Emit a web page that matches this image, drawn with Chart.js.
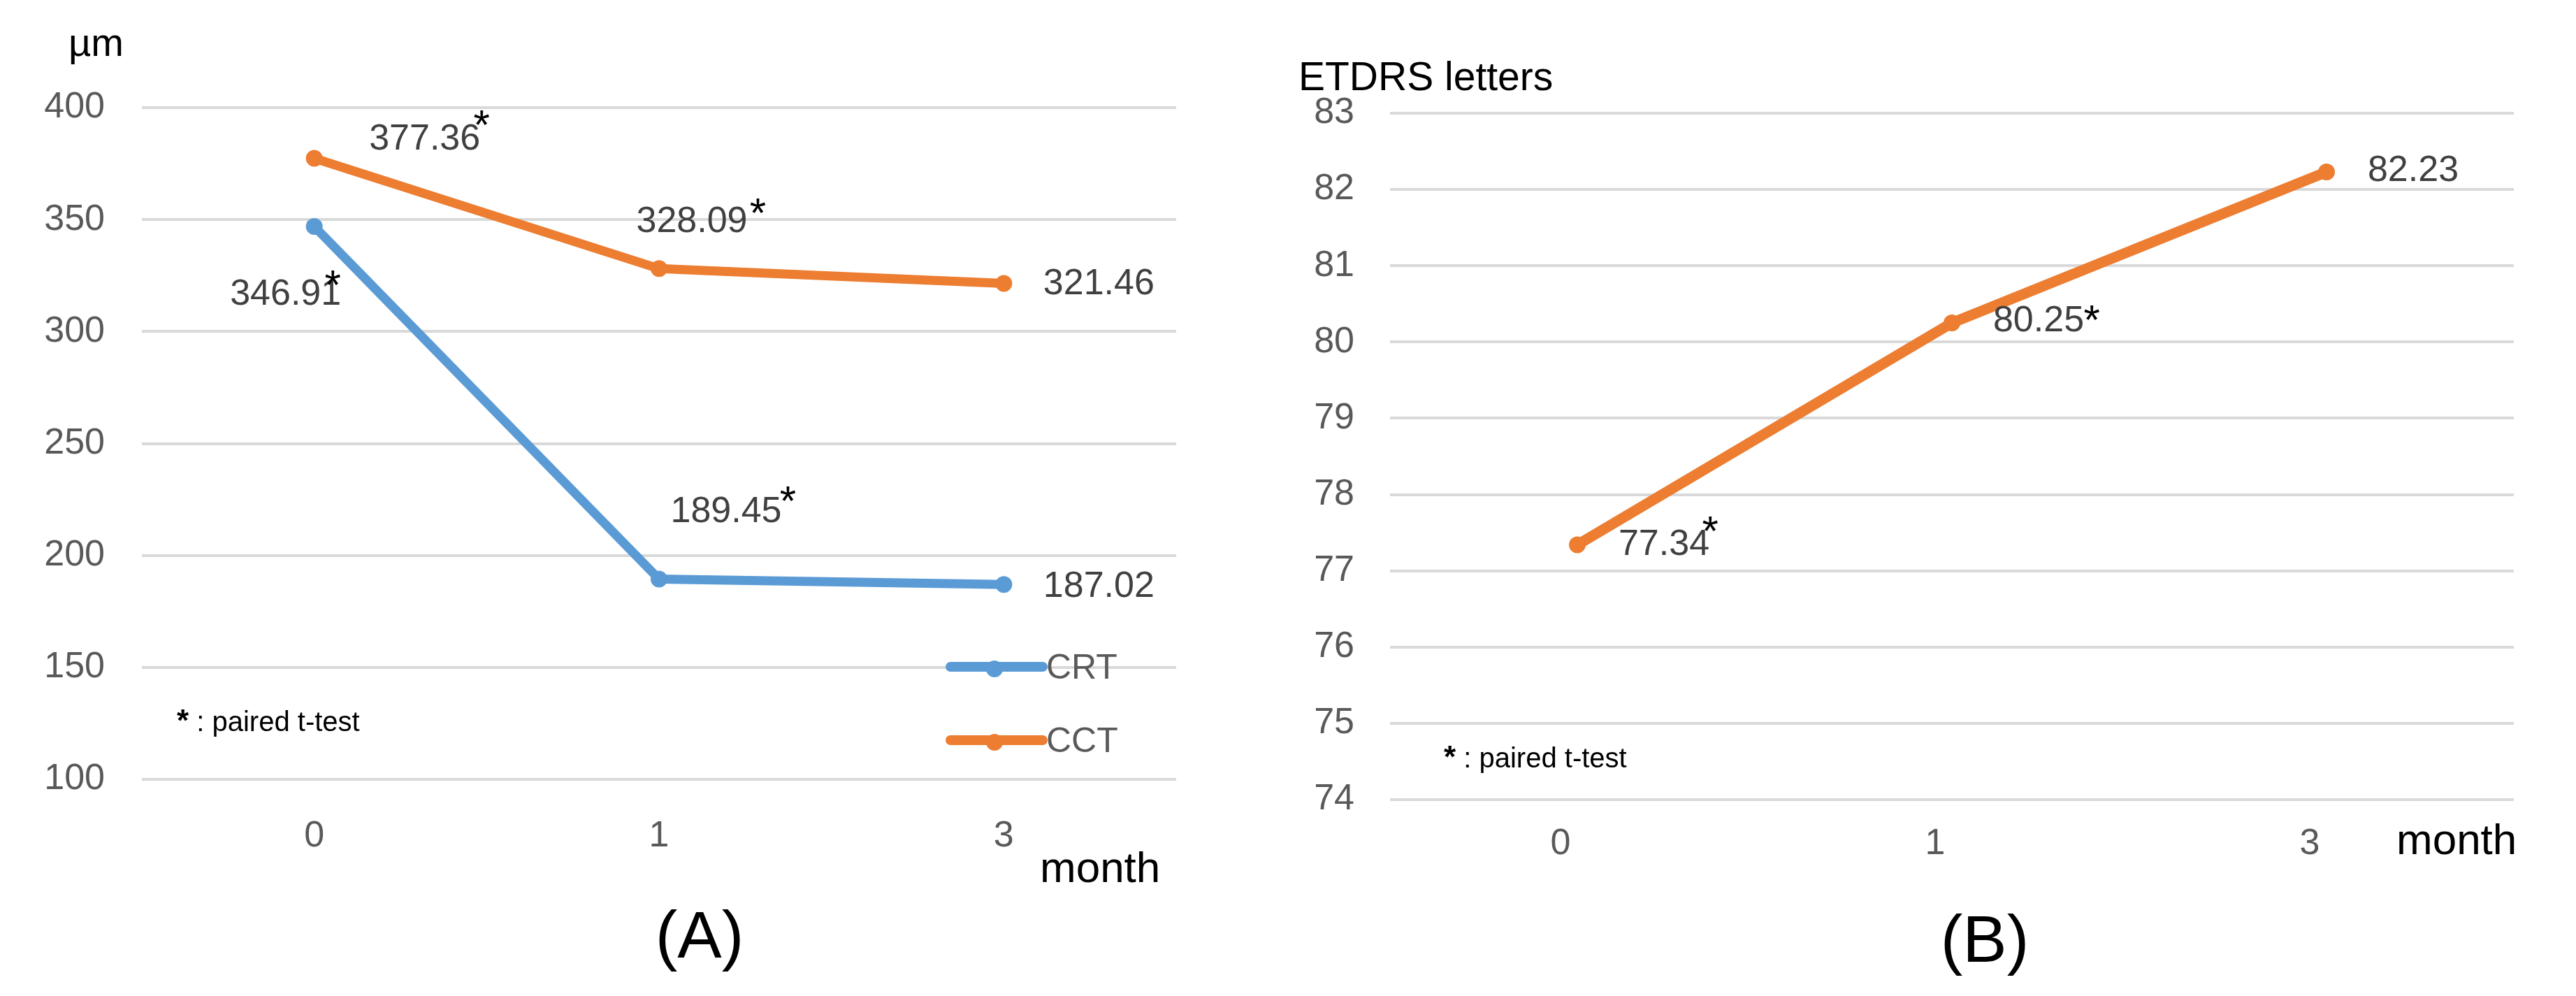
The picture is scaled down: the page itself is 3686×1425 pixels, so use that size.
<!DOCTYPE html>
<html>
<head>
<meta charset="utf-8">
<script src="https://cdn.jsdelivr.net/npm/chart.js@4.4.1/dist/chart.umd.min.js"></script>
<style>
  html, body { margin: 0; padding: 0; background: #ffffff; }
  #wrap { position: relative; width: 3686px; height: 1425px; overflow: hidden; background: #fff; }
  canvas { position: absolute; top: 0; }
  .t { position: absolute; font-family: "Liberation Sans", Arial, sans-serif; line-height: 1; white-space: nowrap; color: #000; }
</style>
</head>
<body>
<div id="wrap">
  <canvas id="chartA" width="1843" height="1425" style="left:0px"></canvas>
  <canvas id="chartB" width="1843" height="1425" style="left:1843px"></canvas>

  <div class="t" style="left:98px; top:33px; font-size:56px;">µm</div>
  <div class="t" style="left:1488px; top:1210px; font-size:62px;">month</div>
  <div class="t" style="left:253px; top:1009px; font-size:40px;"><span style="font-weight:bold;font-size:44px;">*</span> : paired t-test</div>
  <div class="t" style="left:901px; top:1290px; width:200px; text-align:center; font-size:95px;">(A)</div>

  <div class="t" style="left:1858px; top:81px; font-size:57px;">ETDRS letters</div>
  <div class="t" style="left:3429px; top:1170px; font-size:62px;">month</div>
  <div class="t" style="left:2066px; top:1061px; font-size:40px;"><span style="font-weight:bold;font-size:44px;">*</span> : paired t-test</div>
  <div class="t" style="left:2740px; top:1296px; width:200px; text-align:center; font-size:95px;">(B)</div>
</div>
<script>
// ---------------- data ----------------
const months = ['0', '1', '3'];
const crtValues = [346.91, 189.45, 187.02];
const cctValues = [377.36, 328.09, 321.46];
const etdrsValues = [77.34, 80.25, 82.23];
const crtSignificant = [true, true, false];
const cctSignificant = [true, true, false];
const etdrsSignificant = [true, true, false];
const seriesNamesA = ['CRT', 'CCT'];
const seriesNameB = 'BCVA';
const yTicksA = { min: 100, max: 400, step: 50 };
const yTicksB = { min: 74, max: 83, step: 1 };

// ---------------- styles ----------------
const BLUE = '#5B9BD5';
const ORANGE = '#ED7D31';
const FONT = '"Liberation Sans", Arial, sans-serif';

// label offsets (pixels relative to point) and asterisk offsets (relative to label right edge / centre)
const placeA = [
  [ {dx:-41, dy:98, sx:-12, sy:-28}, {dx:96, dy:-96, sx:9, sy:-29}, {dx:136, dy:3, sx:0, sy:0} ],   // CRT
  [ {dx:158, dy:-27, sx:2, sy:-35}, {dx:47, dy:-67, sx:15, sy:-26}, {dx:136, dy:1, sx:0, sy:0} ]   // CCT
];
const placeB = [
  [ {dx:124, dy:0, sx:1, sy:-34}, {dx:124, dy:-2, sx:11, sy:-16}, {dx:124, dy:-1, sx:0, sy:0} ]
];

const valueLabels = {
  id: 'valueLabels',
  afterDatasetsDraw(chart, args, opts) {
    const ctx = chart.ctx;
    chart.data.datasets.forEach((ds, di) => {
      const meta = chart.getDatasetMeta(di);
      const place = opts.placement[di];
      const sig = opts.significant[di];
      meta.data.forEach((pt, i) => {
        const p = place[i];
        const txt = ds.data[i].toFixed(2);
        ctx.save();
        ctx.font = '52px ' + FONT;
        ctx.fillStyle = '#404040';
        ctx.textAlign = 'center';
        ctx.textBaseline = 'middle';
        const cx = pt.x + p.dx, cy = pt.y + p.dy;
        ctx.fillText(txt, cx, cy);
        if (sig[i]) {
          const w = ctx.measureText(txt).width;
          ctx.font = '60px ' + FONT;
          ctx.fillStyle = '#000000';
          ctx.textBaseline = 'alphabetic';
          ctx.fillText('*', cx + w / 2 + p.sx, cy + p.sy + 34);
        }
        ctx.restore();
      });
    });
  }
};

const customLegend = {
  id: 'customLegend',
  afterDraw(chart, args, opts) {
    if (!opts.show) return;
    const ctx = chart.ctx;
    chart.data.datasets.forEach((ds, di) => {
      const y = opts.y[di];
      ctx.save();
      ctx.strokeStyle = ds.borderColor;
      ctx.lineWidth = 14;
      ctx.lineCap = 'round';
      ctx.beginPath();
      ctx.moveTo(opts.x0, y);
      ctx.lineTo(opts.x1, y);
      ctx.stroke();
      ctx.fillStyle = ds.borderColor;
      ctx.beginPath();
      ctx.arc(opts.xm, y + 3, 12, 0, Math.PI * 2);
      ctx.fill();
      ctx.font = '50px ' + FONT;
      ctx.fillStyle = '#595959';
      ctx.textAlign = 'left';
      ctx.textBaseline = 'alphabetic';
      ctx.fillText(ds.label, opts.xt, y + 17);
      ctx.restore();
    });
  }
};

function lineDataset(label, data, color, width) {
  return {
    label, data,
    borderColor: color, backgroundColor: color,
    borderWidth: width, borderCapStyle: 'round', borderJoinStyle: 'round',
    pointRadius: 12, pointBorderWidth: 0, pointBackgroundColor: color,
    tension: 0, fill: false, clip: false
  };
}

function baseOptions(cfg) {
  return {
    responsive: false, animation: false, devicePixelRatio: 1,
    layout: { padding: { top: cfg.top, right: cfg.right, left: 0, bottom: 0 } },
    plugins: {
      legend: { display: false }, tooltip: { enabled: false },
      valueLabels: { placement: cfg.placement, significant: cfg.significant },
      customLegend: cfg.legend
    },
    scales: {
      x: {
        offset: true,
        grid: { display: false, drawTicks: false },
        border: { display: false },
        ticks: { padding: cfg.xPad, labelOffset: cfg.xLabelOffset, color: '#595959', font: { family: FONT, size: 52 } },
        afterFit(s) { s.height = cfg.xHeight; }
      },
      y: {
        min: cfg.ticks.min, max: cfg.ticks.max,
        grid: { color: '#D9D9D9', lineWidth: 4, drawTicks: false },
        border: { display: false },
        ticks: { stepSize: cfg.ticks.step, padding: cfg.yPad, color: '#595959', font: { family: FONT, size: 52 } },
        afterFit(s) { s.width = cfg.yWidth; }
      }
    }
  };
}

new Chart(document.getElementById('chartA'), {
  type: 'line',
  data: {
    labels: months,
    datasets: [
      lineDataset(seriesNamesA[0], crtValues, BLUE, 13),
      lineDataset(seriesNamesA[1], cctValues, ORANGE, 13)
    ]
  },
  options: baseOptions({
    top: 154, right: 160, xHeight: 310, yWidth: 203, yPad: 53, xPad: 50, xLabelOffset: 0,
    ticks: yTicksA, placement: placeA, significant: [crtSignificant, cctSignificant],
    legend: { show: true, x0: 1360, x1: 1492, xm: 1423, xt: 1497, y: [954, 1059] }
  }),
  plugins: [valueLabels, customLegend]
});

new Chart(document.getElementById('chartB'), {
  type: 'line',
  data: {
    labels: months,
    datasets: [ lineDataset(seriesNameB, etdrsValues, ORANGE, 15) ]
  },
  options: baseOptions({
    top: 162, right: 89, xHeight: 281, yWidth: 146, yPad: 51, xPad: 32, xLabelOffset: -24,
    ticks: yTicksB, placement: placeB, significant: [etdrsSignificant],
    legend: { show: false }
  }),
  plugins: [valueLabels, customLegend]
});
</script>
</body>
</html>
